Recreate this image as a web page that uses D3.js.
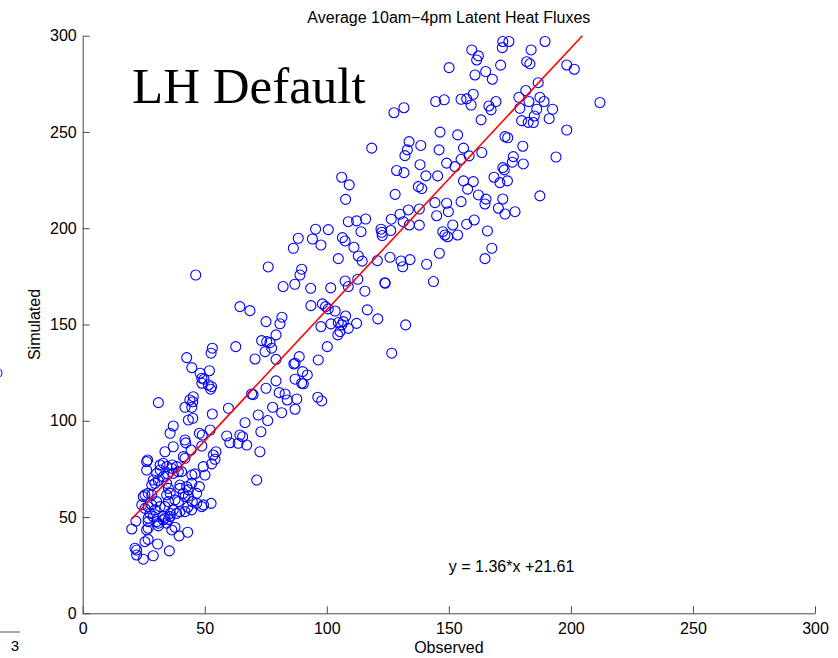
<!DOCTYPE html>
<html>
<head>
<meta charset="utf-8">
<script src="https://cdn.jsdelivr.net/npm/d3@7"></script>
<style>
  body { margin: 0; background: #fff; }
  text { font-family: "Liberation Sans", Arial, Helvetica, sans-serif; }
</style>
</head>
<body>
<svg id="chart"></svg>
<script>
// observed (x) and simulated (y) latent heat fluxes
var observed = [
  46.3,127.5,131.6,133.7,133,132,118.4,128.6,131.6,138.5,138.2,106.1,109.2,107.7,128,137.5,133.4,130,131.3,133.8,
  137.9,137.9,108.8,112.2,115.9,114,122.2,122.5,122.7,126.2,126.4,95.4,100.6,88.3,86.3,94.1,97.6,106.4,107.5,111.1,
  112.9,114.5,104.7,120.7,125.9,130.4,131.1,134.1,76,89.7,89,86.9,82.1,93.4,101.6,107.5,108.8,112.7,115.6,123.8,
  123.9,64.4,68.5,75.1,80.8,81.6,93.5,98.2,99.5,100.6,103.4,107.7,104.7,101.7,112.2,116.6,120.9,132.3,97.6,106.1,
  106.8,138.9,
  104.5,108.8,105.4,126.6,62.7,73.3,75.4,76.7,74.7,77.4,79.2,53.1,52.6,42.6,44.7,51.9,48.1,48.8,49.7,48.8,
  51.5,52.8,52.4,31,41.9,44.7,45.1,45.3,43.9,43.3,45.1,53.1,59.7,70.6,79.2,79.2,69.2,69.8,75.1,80.5,
  82.9,83.8,77.8,81.5,87,88.7,86.5,96.5,100.2,90.1,92,87,89.7,90.4,87.7,87,96.3,97.9,71.9,75.8,
  66.5,73,59,60.3,63.7,64.4,65.5,67.2,72.6,71.3,52.2,49,47.8,48.8,49.4,50.1,52.8,53.5,54.6,54.2,
  52.6,48.8,49.5,44.7,44.7,46,47.8,46.7,43.3,42.6,43.3,44.9,39.8,40.5,41.9,41.2,41.9,42.2,44.4,37.1,
  35.8,37.1,33.7,33,34.4,36.5,31.7,30.3,33,34.8,37.1,39.2,31,28.9,29.6,28.3,26.2,26.6,26.2,25.5,
  26.8,28.3,24.8,24.2,25.5,26.8,28.3,30.3,31.7,29.6,27.6,26.8,26.8,28.9,30.3,31,33,33,33.7,35.1,
  34.4,35.8,35.1,34.4,33.7,35.1,35.8,34.4,35.8,37.1,38.5,39.8,41.9,37.8,39.2,39.8,41.2,41.9,43,20.1,
  21.8,21.4,22.1,22.1,24.8,25.5,26.8,28.9,30.7,35.5,26.8,26.2,31,36.5,37.8,39.5,43,36.7,38.5,31.7,
  44.6,46.7,
  159.4,162.1,161.4,150.1,172.1,174.6,171.9,183.7,189.4,171.2,181.9,183.2,165.1,160.7,167.8,198.3,201.4,211.9,144.6,148.1,
  155,157.3,160,159.1,166.4,167.3,169.3,163.2,178.7,181.5,186.6,182.8,187.3,189,192.5,186,185,179.1,179.8,182.5,
  184.6,191.1,198.3,146.4,153.6,146,156,173,174.1,180.3,163.5,158.3,155,149.1,152.5,176.4,176,180.5,193.9,140.6,
  145.4,168.5,172.1,172.7,170.9,174,156,160,157.7,187.3,162.1,165.2,164.8,172.1,170.3,173,177.1,155,144.3,149.1,
  149.8,145,151.6,157.3,160.4,165.8,147.5,148.4,149.5,153.6,167.6,164.8,146.1,140.9,143.7
]
var simulated = [
  175.7,260,262.6,245,240.7,237.7,241.6,230,228.9,243,233,226.5,222.5,215,217.6,221.6,209.5,207.3,203.4,201.7,
  210,201.6,203.4,203.8,204.8,198.2,199.5,197.9,196.2,198.8,204.7,199.5,199.3,194.8,189.6,194.4,191.3,195.1,193.4,190.1,
  185.6,182.9,184.2,183.2,184.9,183,180,183.7,179.9,178.7,175.7,170.9,169.7,168.8,169,172.6,169.7,173.5,167.3,171.7,
  171.4,159.3,157.2,151.5,150.4,153.8,159.8,160.7,159.3,158.1,157,154.4,151,150.3,150.6,157.6,152.9,149.8,148.9,149.8,
  151.5,220.6,
  144.6,148,146.3,135.1,138.5,141.6,141.1,140.6,135.9,137.7,144.6,137.7,135.1,132.8,127.6,126,124.7,122.1,121.6,119.5,
  118.6,117.7,116.4,109.4,107,107,109.9,112.5,110.8,100.4,101.3,103.5,106.5,132.1,131.9,120.7,113.9,113.6,116.9,114.6,
  113.9,110.8,107,104.2,129.9,133.3,129.5,131.6,138.5,125.5,123.8,121.6,119.5,119.2,111.3,106,112.2,110.3,103,100.1,
  99,94.3,92.1,88.6,88.3,92.6,91.7,87.4,83.9,69.2,95.2,92.6,93.5,86.9,76.2,71.8,77.6,82.2,83.9,80,
  57.1,55.4,56.3,67.5,71.8,72.4,65.8,62.3,64.1,65.8,60.9,58,66.6,73.6,80.5,81.4,90,88.5,84.8,86.5,
  93.5,97.3,83.9,77.9,76.2,75.3,74.4,72.7,71,72.4,72.7,73.6,68.9,69.2,67.5,66.6,78.8,79.6,74.4,61.5,
  62.3,61.5,60.6,56.3,54.5,55.4,56.3,58,55.4,53.7,51.9,49.4,47.6,50.2,47.6,46.8,48.5,50.2,55.4,58,
  61.5,62.3,64.9,67.5,49.4,48.8,50.2,46.8,51.9,53.7,51.9,52.8,52.8,58.9,58,64.9,62.3,60.6,55.1,43.8,
  47.9,33.8,32.9,30.3,28.1,37.2,38.4,29.9,36,32.4,44.2,43.3,45.4,43.3,44.7,40.2,42.1,77,76.2,77,
  53.7,57.1,
  292.6,289.5,287.4,283.4,297,297,293.8,292.6,297,284.7,286.5,285.4,281.4,279.6,277.4,284.8,282.6,265.3,265.8,266.7,
  267,267.2,269.6,264,263.5,261.5,265.8,256.3,268,271.5,275.6,265.8,268,265.8,261.8,261.8,258.3,262.3,255.9,255,
  254.9,256.9,251,249.9,248.5,240.7,241.6,247.6,247,242.6,239.3,237.6,235.8,233.8,232,237.2,234.3,233.4,237,227.2,
  227.2,226.5,231.5,230.3,223.7,224.6,224.6,224.2,220.3,216.8,217.3,215.1,212.6,215.2,210.4,207.4,208.6,213.8,213.3,213,
  208.6,206.5,201.7,202.1,204.3,198.6,198.2,196.5,195.6,196.5,189.6,184.2,187,181.3,172.3
]
var xTicks = [0, 50, 100, 150, 200, 250, 300]
var yTicks = [0, 50, 100, 150, 200, 250, 300]
var fitSlope = 1.36
var fitIntercept = 21.61
var fitRange = [20.2, 204.7]

var title = "Average 10am\u22124pm Latent Heat Fluxes"
var xLabel = "Observed"
var yLabel = "Simulated"
var runName = "LH Default"
var equation = "y = 1.36*x +21.61"

var points = observed.map(function(d, i){ return {x: d, y: simulated[i]} })

var width = 838
var height = 658

var x = d3.scaleLinear()
    .domain([0, 300])
    .range([82.7, 815])

var y = d3.scaleLinear()
    .domain([0, 300])
    .range([613.3, 35.7])

var svg = d3.select("#chart")
    .attr("width", width)
    .attr("height", height)

// leftover edge of the neighbouring panel
svg.append("line")
    .attr("x1", 0).attr("x2", 20)
    .attr("y1", 632).attr("y2", 632)
    .attr("stroke", "#555")
svg.append("text")
    .attr("x", 15).attr("y", 651)
    .attr("text-anchor", "middle")
    .attr("font-size", "15px")
    .text("3")
svg.append("circle")
    .attr("cx", -3).attr("cy", 373)
    .attr("r", 5)
    .attr("fill", "none")
    .attr("stroke", "blue")

// axes
var xAxis = svg.append("g")
    .attr("transform", "translate(0," + y(0) + ")")
    .call(d3.axisBottom(x).tickValues(xTicks).tickSizeInner(-7).tickSizeOuter(0).tickPadding(9))
var yAxis = svg.append("g")
    .attr("transform", "translate(" + x(0) + ",0)")
    .call(d3.axisLeft(y).tickValues(yTicks).tickSizeInner(-7).tickSizeOuter(0).tickPadding(6))

svg.selectAll(".domain, .tick line").attr("stroke", "#4a4a4a")
svg.selectAll(".tick text")
    .attr("font-size", "16px")
    .style("font-family", "'Liberation Sans', Arial, sans-serif")
    .attr("fill", "#000")

// scatter
svg.append("g")
    .selectAll("circle")
    .data(points)
    .enter()
    .append("circle")
    .attr("cx", function(d){ return x(d.x) })
    .attr("cy", function(d){ return y(d.y) })
    .attr("r", 5)
    .attr("fill", "none")
    .attr("stroke", "#0000ff")
    .attr("stroke-width", 1.1)

// fit line
svg.append("line")
    .attr("x1", x(fitRange[0]))
    .attr("y1", y(fitSlope * fitRange[0] + fitIntercept))
    .attr("x2", x(fitRange[1]))
    .attr("y2", y(fitSlope * fitRange[1] + fitIntercept))
    .attr("stroke", "#ff0000")
    .attr("stroke-width", 1.6)

// labels
svg.append("text")
    .attr("x", (x(0) + x(300)) / 2)
    .attr("y", 23)
    .attr("text-anchor", "middle")
    .attr("font-size", "16px")
    .text(title)

svg.append("text")
    .attr("x", (x(0) + x(300)) / 2)
    .attr("y", 653)
    .attr("text-anchor", "middle")
    .attr("font-size", "16px")
    .text(xLabel)

svg.append("text")
    .attr("transform", "translate(40," + ((y(0) + y(300)) / 2) + ") rotate(-90)")
    .attr("text-anchor", "middle")
    .attr("font-size", "16px")
    .text(yLabel)

svg.append("text")
    .attr("x", x(20.2))
    .attr("y", y(265.3))
    .style("font-family", "'Liberation Serif', 'Times New Roman', serif")
    .attr("font-size", "51px")
    .text(runName)

svg.append("text")
    .attr("x", x(150))
    .attr("y", y(21.2))
    .attr("font-size", "16px")
    .text(equation)
</script>
</body>
</html>
